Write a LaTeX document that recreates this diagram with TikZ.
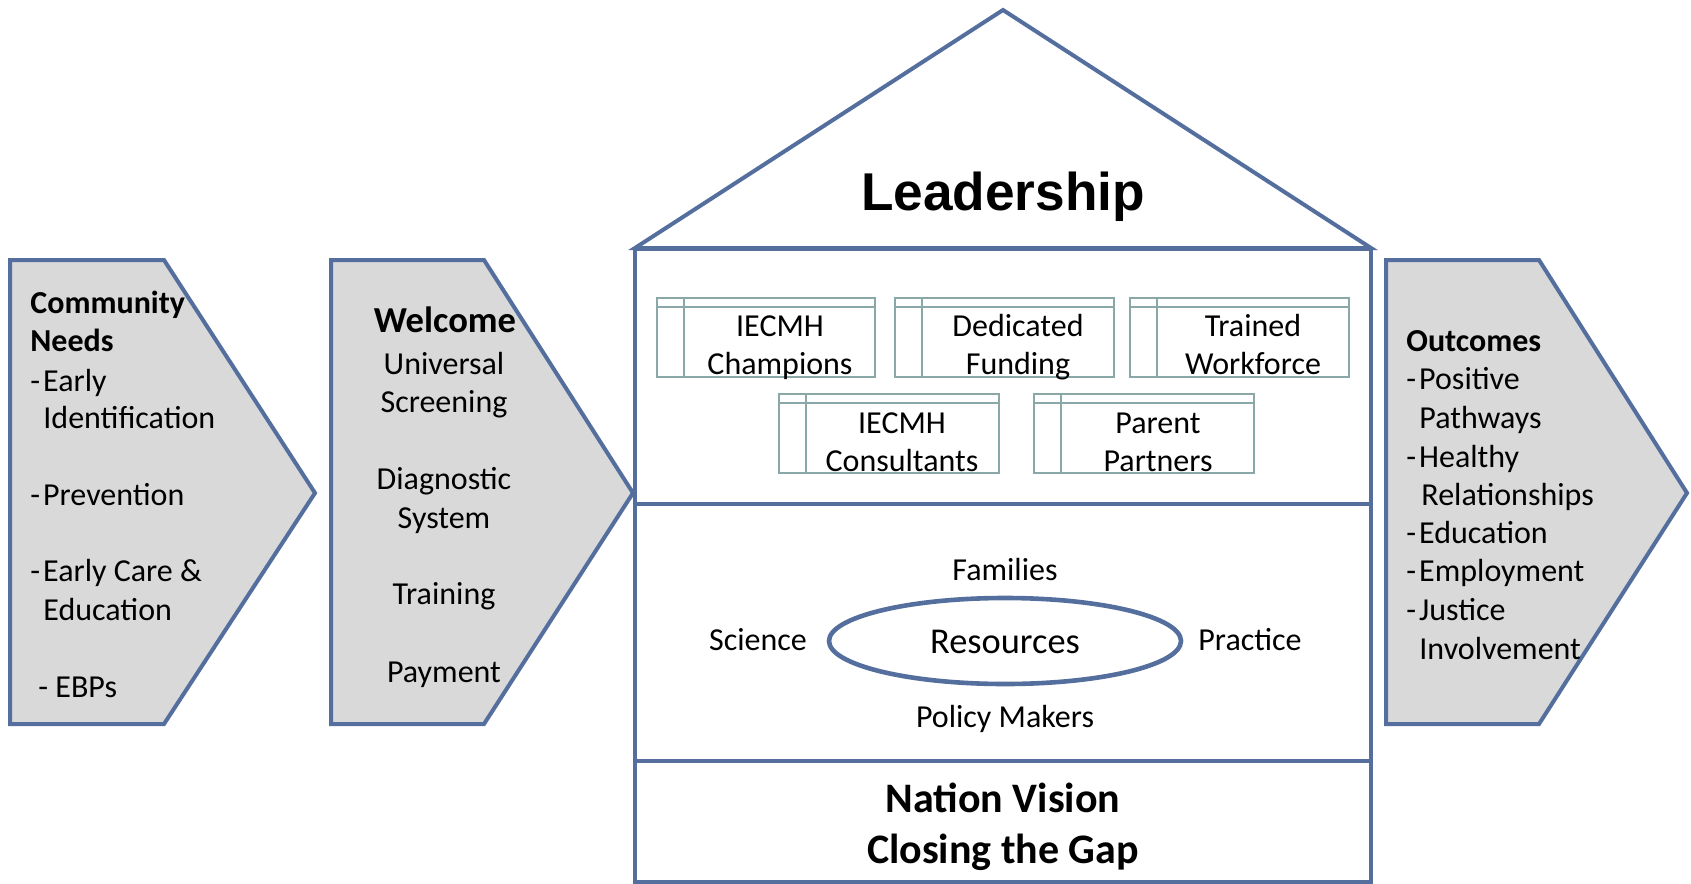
\documentclass[tikz,border=0pt]{standalone}
\usepackage{fontspec}
\setmainfont{Carlito}
\newfontfamily\lsans{Liberation Sans}
\definecolor{hblue}{RGB}{84,111,158}
\definecolor{tgray}{RGB}{138,168,168}
\definecolor{cfill}{RGB}{217,217,217}
\newcommand\tabbox[4]{%
  \draw[tb] (#1,#2) rectangle (#3,#4);
  \draw[tb] (#1,#2+9) -- (#3,#2+9);
  \draw[tb] (#1+27,#2) -- (#1+27,#4);
}
\newcommand\dsh{-\kern1.5pt}
\begin{document}
\begin{tikzpicture}[x=0.5pt,y=-0.5pt,
  chev/.style={draw=hblue,fill=cfill,line width=2pt,line join=miter},
  house/.style={draw=hblue,line width=2pt},
  tb/.style={draw=tgray,line width=1.2pt},
  txt/.style={inner sep=0pt,yshift=-3.7pt,font=\fontsize{16}{19}\selectfont},
  lt/.style={txt,anchor=mid west},
  ct/.style={txt,anchor=mid},
  hd/.style={inner sep=0pt,yshift=-3.7pt,anchor=mid west,font=\fontsize{16}{19}\selectfont\bfseries},
  big/.style={inner sep=0pt,anchor=mid,yshift=-5pt,font=\fontsize{21}{25}\selectfont\bfseries}]
\useasboundingbox[fill=white] (0,0) rectangle (1691,883);

% chevrons
\draw[chev] (10,260) -- (164,260) -- (315,493) -- (164,724) -- (10,724) -- cycle;
\draw[chev] (331,260) -- (484,260) -- (633,493) -- (484,724) -- (331,724) -- cycle;
\draw[chev] (1386,260) -- (1539,260) -- (1687,493) -- (1539,724) -- (1386,724) -- cycle;

% house
\draw[house,line join=miter] (635,248) -- (1003,10) -- (1371,248) -- cycle;
\draw[house] (635,249) rectangle (1371,504);
\draw[house] (635,504) rectangle (1371,761);
\draw[house] (635,761) rectangle (1371,882);

\node[inner sep=0pt,yshift=-3pt,font=\lsans\fontsize{26.6}{30}\selectfont\bfseries] (lead) at (1003,191) {Leadership};

% inner boxes
\tabbox{657}{298}{875}{377}
\tabbox{895}{298}{1114}{377}
\tabbox{1130}{298}{1349}{377}
\tabbox{779}{394}{999}{473}
\tabbox{1034}{394}{1254}{473}
\node[ct] (b1a) at (780,324) {IECMH};
\node[ct] (b1b) at (780,362) {Champions};
\node[ct] (b2a) at (1018,324) {Dedicated};
\node[ct] (b2b) at (1018,362) {Funding};
\node[ct] (b3a) at (1253,324) {Trained};
\node[ct] (b3b) at (1253,362) {Workforce};
\node[ct] (b4a) at (902,421) {IECMH};
\node[ct] (b4b) at (902,459) {Consultants};
\node[ct] (b5a) at (1158,421) {Parent};
\node[ct] (b5b) at (1158,459) {Partners};

% resources
\draw[draw=hblue,line width=2.3pt] (1005,641) ellipse [x radius=176, y radius=43];
\node[inner sep=0pt,anchor=mid,yshift=-3.7pt,font=\fontsize{18.2}{22}\selectfont] (res) at (1005,641) {Resources};
\node[ct] (fam) at (1005,568) {Families};
\node[ct] (sci) at (758,638) {Science};
\node[ct] (pra) at (1250,638) {Practice};
\node[ct] (pol) at (1005,715) {Policy Makers};

% base
\node[big] (nv) at (1003,798) {Nation Vision};
\node[big] (ctg) at (1003,849) {Closing the Gap};

% community needs
\node[hd] (cn1) at (30,301) {Community};
\node[hd] (cn2) at (30,339) {Needs};
\node[lt] (cn3) at (30,379) {\dsh Early};
\node[lt] (cn4) at (43,416) {Identification};
\node[lt] (cn5) at (30,493) {\dsh Prevention};
\node[lt] (cn6) at (30,569) {\dsh Early Care \&};
\node[lt] (cn7) at (43,608) {Education};
\node[lt] (cn8) at (38,685) {- EBPs};

% welcome
\node[inner sep=0pt,anchor=mid,yshift=-3.7pt,font=\fontsize{18.3}{22}\selectfont\bfseries] (w0) at (445,320) {Welcome};
\node[ct] (w1) at (444,362) {Universal};
\node[ct] (w2) at (444,400) {Screening};
\node[ct] (w3) at (444,477) {Diagnostic};
\node[ct] (w4) at (444,516) {System};
\node[ct] (w5) at (444,592) {Training};
\node[ct] (w6) at (444,670) {Payment};

% outcomes
\node[hd] (o0) at (1406,339) {Outcomes};
\node[lt] (o1) at (1406,377) {\dsh Positive};
\node[lt] (o2) at (1419,416) {Pathways};
\node[lt] (o3) at (1406,455) {\dsh Healthy};
\node[lt] (o4) at (1421,493) {Relationships};
\node[lt] (o5) at (1406,531) {\dsh Education};
\node[lt] (o6) at (1406,569) {\dsh Employment};
\node[lt] (o7) at (1406,608) {\dsh Justice};
\node[lt] (o8) at (1419,647) {Involvement};
\end{tikzpicture}
\end{document}
